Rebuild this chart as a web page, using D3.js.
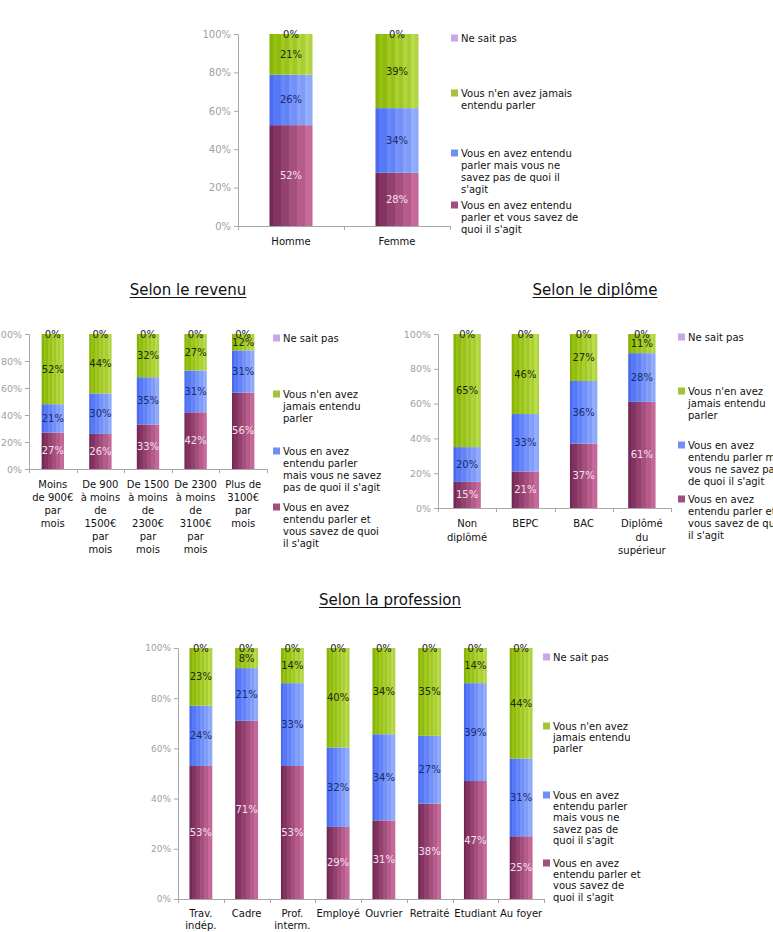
<!DOCTYPE html>
<html><head><meta charset="utf-8">
<script src="https://cdn.jsdelivr.net/npm/d3@7"></script>
<style>body{margin:0;background:#fff}svg{display:block;font-family:"DejaVu Sans",Verdana,sans-serif}</style>
</head><body><svg id="c" width="773" height="932"></svg>
<script>
// ---- data ----
const seriesNames = ["Vous en avez entendu parler et vous savez de quoi il s'agit","Vous en avez entendu parler mais vous ne savez pas de quoi il s'agit","Vous n'en avez jamais entendu parler","Ne sait pas"];
const yTicks = [0,20,40,60,80,100];
const yTickLabels = ["0%","20%","40%","60%","80%","100%"];

const sexeCats = ["Homme","Femme"];
const sexeSait = [52,28];
const sexeEntendu = [26,34];
const sexeJamais = [21,39];
const sexeNsp = [0,0];

const revenuTitle = "Selon le revenu";
const revenuCats = ["Moins de 900€ par mois","De 900 à moins de 1500€ par mois","De 1500 à moins de 2300€ par mois","De 2300 à moins de 3100€ par mois","Plus de 3100€ par mois"];
const revenuSait = [27,26,33,42,56];
const revenuEntendu = [21,30,35,31,31];
const revenuJamais = [52,44,32,27,12];
const revenuNsp = [0,0,0,0,0];

const diplomeTitle = "Selon le diplôme";
const diplomeCats = ["Non diplômé","BEPC","BAC","Diplômé du supérieur"];
const diplomeSait = [15,21,37,61];
const diplomeEntendu = [20,33,36,28];
const diplomeJamais = [65,46,27,11];
const diplomeNsp = [0,0,0,0];

const professionTitle = "Selon la profession";
const professionCats = ["Trav. indép.","Cadre","Prof. interm.","Employé","Ouvrier","Retraité","Etudiant","Au foyer"];
const professionSait = [53,71,53,29,31,38,47,25];
const professionEntendu = [24,21,33,32,34,27,39,31];
const professionJamais = [23,8,14,40,34,35,14,44];
const professionNsp = [0,0,0,0,0,0,0,0];

// ---- styles ----
const grad = [["#762a55","#c86c9c"],["#4c6ef2","#93adff"],["#8cb808","#b6d848"],["#b890e0","#d8c0f0"]];
const legendCol = ["#a0507c","#6f8ff5","#a3c43a","#c9a6e8"];
const labelCol = ["#f6e0ec","#1b2b70","#1e2a0a","#222"];

const svg = d3.select("#c");
const defs = svg.append("defs");
grad.forEach((g,i)=>{
  const lg = defs.append("linearGradient").attr("id","g"+i).attr("x1","0").attr("x2","1").attr("y1","0").attr("y2","0");
  const n = 11, ip = d3.interpolateRgb(g[0],g[1]);
  for(let k=0;k<n;k++){
    let c = d3.rgb(ip(k/(n-1)));
    c = k%2 ? c.brighter(0.12) : c.darker(0.08);
    lg.append("stop").attr("offset",(k/n)).attr("stop-color",c);
    lg.append("stop").attr("offset",((k+1)/n)).attr("stop-color",c);
  }
});

function panel(o){
  const g = svg.append("g");
  const x = d3.scaleBand().domain(o.cats).range([o.x0,o.x1]).paddingInner(o.pad).paddingOuter(o.pad/2);
  const y = d3.scaleLinear().domain([0,100]).range([o.yb,o.yt]);
  const yf = d3.scaleLinear().domain([0,1]).range([o.yb,o.yt]);
  const rows = o.cats.map((c,i)=>({cat:c, v:[o.s[0][i],o.s[1][i],o.s[2][i],o.s[3][i]]}));
  const stack = d3.stack().keys([0,1,2,3]).value((d,k)=>d.v[k]).offset(d3.stackOffsetExpand)(rows);
  // y axis
  const ya = d3.axisLeft(y).tickValues(yTicks).tickFormat((d,i)=>yTickLabels[i]).tickSize(4).tickSizeOuter(0);
  const yg = g.append("g").attr("transform",`translate(${o.x0},0)`).call(ya);
  yg.selectAll("path,line").attr("stroke","#a8a8a8");
  yg.selectAll("text").attr("fill","#a0a0a0").attr("font-size",o.tfs).attr("font-family","DejaVu Sans");
  // x axis
  g.append("line").attr("x1",o.x0).attr("x2",o.x1).attr("y1",o.yb+0.5).attr("y2",o.yb+0.5).attr("stroke","#a8a8a8");
  const step = x.step();
  d3.range(o.cats.length+1).forEach(k=>{
    const xx = Math.round(o.x0+k*step)+0.5;
    g.append("line").attr("x1",xx).attr("x2",xx).attr("y1",o.yb).attr("y2",o.yb+4).attr("stroke","#a8a8a8");
  });
  // bars
  stack.forEach((s,si)=>{
    g.selectAll(null).data(s).join("rect")
      .attr("x",d=>x(d.data.cat)).attr("width",x.bandwidth())
      .attr("y",d=>yf(d[1])).attr("height",d=>Math.max(0,yf(d[0])-yf(d[1])))
      .attr("fill",`url(#g${si})`);
  });
  stack.forEach((s,si)=>{
    g.selectAll(null).data(s).join("text")
      .attr("x",d=>x(d.data.cat)+x.bandwidth()/2)
      .attr("y",d=>(yf(d[0])+yf(d[1]))/2)
      .attr("dy","0.35em").attr("text-anchor","middle")
      .attr("font-size",10).attr("fill",labelCol[si])
      .text(d=>d.data.v[si]+"%");
  });
  // category labels
  o.cats.forEach((c,i)=>{
    const lines = o.catLines[i];
    const t = g.append("text").attr("text-anchor","middle").attr("font-size",10).attr("fill","#111");
    lines.forEach((l,j)=>t.append("tspan").attr("x",x(c)+x.bandwidth()/2).attr("y",o.cy+j*o.cls).text(l));
  });
  // legend
  const order=[3,2,1,0];
  order.forEach((si,k)=>{
    const yy = o.ly[k];
    g.append("rect").attr("x",o.lx).attr("y",yy-3.5).attr("width",7).attr("height",7).attr("fill",legendCol[si]);
    const t = g.append("text").attr("font-size",10).attr("fill","#111");
    o.leg[k].forEach((l,j)=>t.append("tspan").attr("x",o.lx+10).attr("y",yy+j*o.lls).attr("dy","0.35em").text(l));
  });
  if(o.title){
    const t = g.append("text").attr("x",o.tx).attr("y",o.ty).attr("text-anchor","middle").attr("font-size",15).attr("fill","#111").text(o.title);
    const bb = t.node().getBBox();
    g.append("line").attr("x1",bb.x).attr("x2",bb.x+bb.width).attr("y1",o.ty+2.5).attr("y2",o.ty+2.5).attr("stroke","#111").attr("stroke-width",1);
  }
}

panel({cats:sexeCats, s:[sexeSait,sexeEntendu,sexeJamais,sexeNsp], x0:238,x1:450,yt:34,yb:226,pad:0.594,tfs:10,
  catLines:[["Homme"],["Femme"]], cy:245, cls:13,
  lx:451, ly:[38,93,153,205], lls:12,
  leg:[["Ne sait pas"],["Vous n'en avez jamais","entendu parler"],["Vous en avez entendu","parler mais vous ne","savez pas de quoi il","s'agit"],["Vous en avez entendu","parler et vous savez de","quoi il s'agit"]]});

panel({cats:revenuCats, s:[revenuSait,revenuEntendu,revenuJamais,revenuNsp], x0:29,x1:267,yt:334,yb:469,pad:0.53,tfs:9.5,
  catLines:[["Moins","de 900€","par","mois"],["De 900","à moins","de","1500€","par","mois"],["De 1500","à moins","de","2300€","par","mois"],["De 2300","à moins","de","3100€","par","mois"],["Plus de","3100€","par","mois"]], cy:488, cls:13,
  lx:273, ly:[338,394,451,507], lls:12.3,
  leg:[["Ne sait pas"],["Vous n'en avez","jamais entendu","parler"],["Vous en avez","entendu parler","mais vous ne savez","pas de quoi il s'agit"],["Vous en avez","entendu parler et","vous savez de quoi","il s'agit"]],
  title:revenuTitle, tx:188, ty:295});

panel({cats:diplomeCats, s:[diplomeSait,diplomeEntendu,diplomeJamais,diplomeNsp], x0:438,x1:671,yt:334,yb:508,pad:0.53,tfs:9.5,
  catLines:[["Non","diplômé"],["BEPC"],["BAC"],["Diplômé","du","supérieur"]], cy:527, cls:13.5,
  lx:678, ly:[337,391,445,499], lls:12.3,
  leg:[["Ne sait pas"],["Vous n'en avez","jamais entendu","parler"],["Vous en avez","entendu parler mais","vous ne savez pas","de quoi il s'agit"],["Vous en avez","entendu parler et","vous savez de quoi","il s'agit"]],
  title:diplomeTitle, tx:595, ty:295});

panel({cats:professionCats, s:[professionSait,professionEntendu,professionJamais,professionNsp], x0:178,x1:544,yt:648,yb:899,pad:0.5,tfs:9,
  catLines:[["Trav.","indép."],["Cadre"],["Prof.","interm."],["Employé"],["Ouvrier"],["Retraité"],["Etudiant"],["Au foyer"]], cy:917, cls:12,
  lx:543, ly:[657,726,795,863], lls:11.4,
  leg:[["Ne sait pas"],["Vous n'en avez","jamais entendu","parler"],["Vous en avez","entendu parler","mais vous ne","savez pas de","quoi il s'agit"],["Vous en avez","entendu parler et","vous savez de","quoi il s'agit"]],
  title:professionTitle, tx:390, ty:605});
</script></body></html>
